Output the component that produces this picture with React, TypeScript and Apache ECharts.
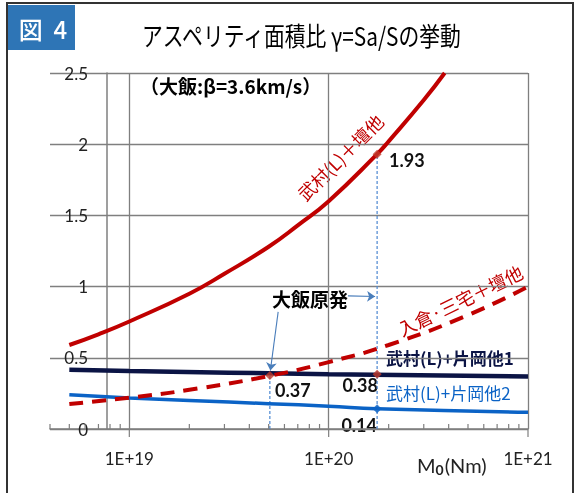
import React, { useEffect, useRef } from 'react';
import * as echarts from 'echarts';

// 武村(L)+壇他
const takemuraDanX = [5e18, 7e18, 1e19, 2e19, 3e19, 5e19, 7e19, 1e20, 1.75e20, 2e20, 3e20, 3.82e20];
const takemuraDanY = [0.59, 0.665, 0.755, 0.95, 1.09, 1.28, 1.43, 1.6, 1.93, 2.02, 2.31, 2.5];
// 入倉・三宅+壇他
const irikuraX = [5e18, 1e19, 2e19, 5e19, 1e20, 2e20, 5e20, 1e21];
const irikuraY = [0.175, 0.22, 0.275, 0.372, 0.47, 0.59, 0.8, 1.0];
// 武村(L)+片岡他1
const kataoka1X = [5e18, 1e19, 1e20, 1e21];
const kataoka1Y = [0.416, 0.408, 0.385, 0.369];
// 武村(L)+片岡他2
const kataoka2X = [5e18, 1e19, 2e19, 5e19, 1e20, 1.75e20, 1e21];
const kataoka2Y = [0.24, 0.218, 0.2, 0.178, 0.16, 0.142, 0.117];

// 大飯原発 reference points
const ohiX = 5.07e19;
const ohiY = 0.375;
const refX = 1.75e20;
const refRedY = 1.93;
const refNavyY = 0.385;
const refBlueY = 0.142;

const minorTicks = [4e18, 5e18, 6e18, 7e18, 8e18, 9e18, 2e19, 3e19, 4e19, 5e19, 6e19, 7e19, 8e19, 9e19, 2e20, 3e20, 4e20, 5e20, 6e20, 7e20, 8e20, 9e20];
const majorTicks = [1e19, 1e20, 1e21];

const zip = (xs: number[], ys: number[]) => xs.map((x, i) => [x, ys[i]]);

const JP = '"Noto Sans CJK JP", sans-serif';
const NUM = 'Lato, "Noto Sans", sans-serif';

export default function App() {
  const ref = useRef<HTMLDivElement>(null);
  useEffect(() => {
    const chart = echarts.init(ref.current!, undefined, { renderer: 'svg' });
    const tickSeries = (vals: number[], len: number) => ({
      type: 'custom',
      data: vals.map((v) => [v, 0]),
      encode: { x: 0, y: 1 },
      silent: true,
      z: 5,
      renderItem: (params: any, api: any) => {
        const p = api.coord([api.value(0), 0]);
        return {
          type: 'line',
          shape: { x1: p[0], y1: p[1], x2: p[0], y2: p[1] + len },
          style: { stroke: '#7f7f7f', lineWidth: 1.2 },
        };
      },
    });
    const option: any = {
      animation: false,
      grid: { left: 50, right: 49, top: 73, bottom: 64 },
      xAxis: {
        type: 'log',
        logBase: 10,
        min: 4e18,
        max: 1e21,
        axisLine: { onZero: false, lineStyle: { color: '#7f7f7f', width: 1.5 } },
        axisTick: { show: false },
        splitLine: { show: true, showMinLine: false, lineStyle: { color: '#7f7f7f', width: 1.3 } },
        axisLabel: {
          margin: 21,
          fontFamily: NUM,
          fontSize: 17,
          color: '#222',
          formatter: (v: number) => {
            const l = Math.log10(v);
            const e = Math.round(l);
            if (Math.abs(l - e) > 1e-6) return '';
            return '1E+' + e;
          },
        },
      },
      yAxis: {
        type: 'value',
        min: 0,
        max: 2.5,
        interval: 0.5,
        offset: -57,
        axisLine: { show: true, lineStyle: { color: '#7f7f7f', width: 1.5 } },
        axisTick: { show: true, length: 5, lineStyle: { color: '#7f7f7f' } },
        splitLine: { show: true, lineStyle: { color: '#7f7f7f', width: 1.3 } },
        axisLabel: { margin: 19, fontFamily: NUM, fontSize: 17, color: '#222' },
      },
      series: [
        tickSeries(minorTicks, -5),
        tickSeries(majorTicks, 8),
        {
          type: 'line',
          data: zip(kataoka2X, kataoka2Y),
          smooth: true,
          showSymbol: false,
          lineStyle: { color: '#0b63c6', width: 3.5 },
          z: 3,
        },
        {
          type: 'line',
          data: zip(kataoka1X, kataoka1Y),
          smooth: true,
          showSymbol: false,
          lineStyle: { color: '#0b1445', width: 4.5 },
          z: 3,
        },
        {
          type: 'line',
          data: zip(irikuraX, irikuraY),
          smooth: true,
          showSymbol: false,
          lineStyle: { color: '#c00000', width: 4, type: [14, 9] },
          z: 4,
        },
        {
          type: 'line',
          data: zip(takemuraDanX, takemuraDanY),
          smooth: true,
          showSymbol: false,
          lineStyle: { color: '#c00000', width: 4 },
          z: 4,
        },
        {
          type: 'line',
          data: [[ohiX, 0], [ohiX, ohiY]],
          showSymbol: false,
          lineStyle: { color: '#4a86d0', width: 1.2, type: [3, 2] },
          z: 2,
        },
        {
          type: 'line',
          data: [[refX, 0], [refX, refRedY]],
          showSymbol: false,
          lineStyle: { color: '#4a86d0', width: 1.2, type: [3, 2] },
          z: 2,
          markLine: {
            silent: true,
            symbol: ['none', 'arrow'],
            symbolSize: 8,
            label: { show: false },
            lineStyle: { color: '#4a7ebb', width: 1.1, type: 'solid' },
            data: [
              [{ coord: [1.25e20, 0.935] }, { coord: [1.71e20, 0.93] }],
              [{ coord: [5.58e19, 0.823] }, { coord: [5.1e19, 0.41] }],
            ],
          },
        },
        {
          type: 'scatter',
          data: [[refX, refRedY], [ohiX, ohiY], [refX, refNavyY]],
          symbol: 'diamond',
          symbolSize: 9,
          itemStyle: { color: '#c0392b' },
          z: 6,
        },
        {
          type: 'scatter',
          data: [[refX, refBlueY]],
          symbol: 'diamond',
          symbolSize: 9,
          itemStyle: { color: '#0b63c6' },
          z: 6,
        },
      ],
      graphic: [
        { type: 'rect', shape: { x: 7, y: 3, width: 566, height: 500 }, style: { fill: 'none', stroke: '#333', lineWidth: 2 }, silent: true },
        { type: 'rect', shape: { x: 8, y: 5, width: 67, height: 45 }, style: { fill: '#2e75b6' } },
        { type: 'text', x: 43, y: 28, style: { text: '図\u00a0\u00a04', fill: '#fff', font: `500 24px ${JP}`, align: 'center', verticalAlign: 'middle' } },
        { type: 'text', x: 142, y: 35, scaleX: 0.8, style: { text: 'アスペリティ面積比 γ=Sa/Sの挙動', fill: '#000', font: `26px ${JP}`, align: 'left', verticalAlign: 'middle' } },
        { type: 'text', x: 140, y: 85, style: { text: '（大飯:β=3.6km/s）', fill: '#000', font: `bold 19px ${JP}`, align: 'left', verticalAlign: 'middle' } },
        { type: 'text', x: 340, y: 157, rotation: Math.PI / 4, style: { text: '武村(L)＋壇他', fill: '#c00000', font: `18px ${JP}`, align: 'center', verticalAlign: 'middle' } },
        { type: 'text', x: 389, y: 160, style: { text: '1.93', fill: '#111', font: `bold 18px ${NUM}`, align: 'left', verticalAlign: 'middle' } },
        { type: 'text', x: 272, y: 298, style: { text: '大飯原発', fill: '#000', font: `bold 19px ${JP}`, align: 'left', verticalAlign: 'middle' } },
        { type: 'text', x: 460, y: 300, rotation: (26 * Math.PI) / 180, style: { text: '入倉·三宅＋壇他', fill: '#c00000', font: `18px ${JP}`, align: 'center', verticalAlign: 'middle' } },
        { type: 'text', x: 386, y: 357, style: { text: '武村(L)+片岡他1', fill: '#0b1445', font: `bold 17px ${JP}`, align: 'left', verticalAlign: 'middle' } },
        { type: 'text', x: 386, y: 392, style: { text: '武村(L)+片岡他2', fill: '#0b63c6', font: `17px ${JP}`, align: 'left', verticalAlign: 'middle' } },
        { type: 'text', x: 275, y: 390, style: { text: '0.37', fill: '#111', font: `bold 18px ${NUM}`, align: 'left', verticalAlign: 'middle' } },
        { type: 'text', x: 378, y: 385, style: { text: '0.38', fill: '#111', font: `bold 18px ${NUM}`, align: 'right', verticalAlign: 'middle' } },
        { type: 'text', x: 377, y: 425, style: { text: '0.14', fill: '#111', font: `bold 18px ${NUM}`, align: 'right', verticalAlign: 'middle' } },
        {
          type: 'text',
          x: 417,
          y: 465,
          style: {
            text: 'M{s|0}(Nm)',
            fill: '#222',
            font: `20px ${NUM}`,
            align: 'left',
            verticalAlign: 'middle',
            rich: { s: { fontSize: 14, fontWeight: 'bold', fontFamily: NUM, fill: '#222', padding: [9, 1, 0, 0] } },
          },
        },
      ],
    };
    chart.setOption(option);
    return () => chart.dispose();
  }, []);
  return <div ref={ref} style={{ position: 'fixed', left: 0, top: 0, width: 577, height: 493 }} />;
}
